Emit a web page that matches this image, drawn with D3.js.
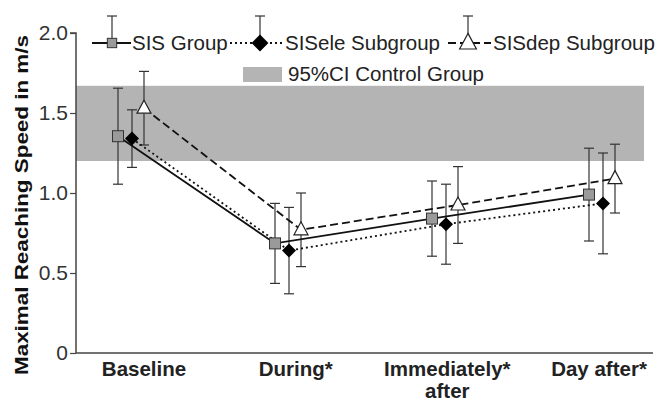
<!DOCTYPE html>
<html><head><meta charset="utf-8">
<script src="https://cdn.jsdelivr.net/npm/d3@7"></script>
<style>body{margin:0;background:#fff}svg{display:block}text{font-family:"Liberation Sans",Arial,sans-serif}</style>
</head><body>
<svg id="c" width="659" height="400"></svg>
<script>
const categories = ["Baseline", "During*", "Immediately* after", "Day after*"];
const sisGroup = [1.355, 0.685, 0.84, 0.99];
const sisGroupErr = [0.30, 0.25, 0.235, 0.29];
const sisEle = [1.34, 0.64, 0.805, 0.935];
const sisEleErr = [0.18, 0.27, 0.25, 0.315];
const sisDep = [1.53, 0.77, 0.925, 1.09];
const sisDepErr = [0.23, 0.23, 0.24, 0.215];
const controlCI = [1.2, 1.67];
const yTicks = [0, 0.5, 1.0, 1.5, 2.0];
const seriesNames = ["SIS Group", "SISele Subgroup", "SISdep Subgroup"];

(function () {
const svg = d3.select("#c");
const pL = 76, pR = 653, pT = 33, pB = 353;
const y = d3.scaleLinear().domain([0, 2]).range([pB, pT]);
const x = d3.scalePoint().domain(categories).range([132, 603]);
const xl = d3.scalePoint().domain(categories).range([144, 599]);

// control band
svg.append("rect").attr("x", pL).attr("width", 644 - pL)
  .attr("y", y(controlCI[1])).attr("height", y(controlCI[0]) - y(controlCI[1]))
  .attr("fill", "#b4b4b4");

// axes
const yAxis = d3.axisLeft(y).tickValues(yTicks).tickSize(6).tickPadding(2)
  .tickFormat(d => d === 0 ? "0" : d3.format(".1f")(d));
const gy = svg.append("g").attr("transform", `translate(${pL},0)`).call(yAxis);
gy.select(".domain").attr("stroke", "#444").attr("stroke-width", 1.5).attr("d", `M-6,${pT}H0V${pB}`);
gy.selectAll(".tick line").attr("stroke", "#444").attr("stroke-width", 1.2);
gy.selectAll(".tick text").attr("font-size", 21).attr("fill", "#333").attr("font-family", "Liberation Sans, Arial, sans-serif");
svg.append("line").attr("x1", pL).attr("x2", pR).attr("y1", pB).attr("y2", pB)
  .attr("stroke", "#444").attr("stroke-width", 1.5);

// x labels
categories.forEach(c => {
  const parts = c === "Immediately* after" ? ["Immediately*", "after"] : [c];
  const t = svg.append("text").attr("x", xl(c)).attr("y", 376).attr("text-anchor", "middle")
    .attr("font-size", 20.5).attr("font-weight", "bold").attr("fill", "#222");
  parts.forEach((p, i) => t.append("tspan").attr("x", xl(c)).attr("dy", i === 0 ? 0 : 21.5).text(p));
});

// y title
svg.append("text").attr("transform", `translate(28,205) rotate(-90)`).attr("text-anchor", "middle")
  .attr("font-size", 19).attr("font-weight", "bold").attr("fill", "#111")
  .attr("textLength", 340).attr("lengthAdjust", "spacingAndGlyphs")
  .text("Maximal Reaching Speed in m/s");

const series = [
  {name: seriesNames[0], vals: sisGroup, err: sisGroupErr, off: -14, dash: null, sym: "square"},
  {name: seriesNames[1], vals: sisEle, err: sisEleErr, off: 0, dash: "2,3", sym: "diamond"},
  {name: seriesNames[2], vals: sisDep, err: sisDepErr, off: 12, dash: "8,4", sym: "triangle"}
];

function drawMarker(g, sym, cx, cy, scale) {
  const s = scale || 1;
  if (sym === "square") {
    const h = 5.5 * s;
    g.append("rect").attr("x", cx - h).attr("y", cy - h).attr("width", 2 * h).attr("height", 2 * h)
      .attr("fill", "#9a9a9a").attr("stroke", "#333").attr("stroke-width", 1);
  } else if (sym === "diamond") {
    const h = 7 * s;
    g.append("path").attr("d", `M${cx},${cy - h}L${cx + h},${cy}L${cx},${cy + h}L${cx - h},${cy}Z`)
      .attr("fill", "#000");
  } else {
    const w = 7 * s, hu = 8 * s, hd = 5 * s;
    g.append("path").attr("d", `M${cx},${cy - hu}L${cx + w},${cy + hd}L${cx - w},${cy + hd}Z`)
      .attr("fill", "#fff").attr("stroke", "#222").attr("stroke-width", 1.2);
  }
}

const gErr = svg.append("g"), gLine = svg.append("g"), gMark = svg.append("g");
series.forEach(s => {
  s.vals.forEach((v, i) => {
    const cx = x(categories[i]) + s.off;
    const y1 = y(v + s.err[i]), y2 = y(v - s.err[i]);
    gErr.append("line").attr("x1", cx).attr("x2", cx).attr("y1", y1).attr("y2", y2).attr("stroke", "#333").attr("stroke-width", 1.2);
    [y1, y2].forEach(yy => gErr.append("line").attr("x1", cx - 5).attr("x2", cx + 5).attr("y1", yy).attr("y2", yy).attr("stroke", "#333").attr("stroke-width", 1.2));
  });
  const line = d3.line().x((v, i) => x(categories[i]) + s.off).y(v => y(v));
  const p = gLine.append("path").attr("d", line(s.vals)).attr("fill", "none").attr("stroke", "#111").attr("stroke-width", 1.8);
  if (s.dash) p.attr("stroke-dasharray", s.dash);
  s.vals.forEach((v, i) => drawMarker(gMark, s.sym, x(categories[i]) + s.off, y(v)));
});

// legend
const legY = 43;
const leg = [
  {x1: 92, x2: 131, mx: 112, tx: 132},
  {x1: 230, x2: 283, mx: 260, tx: 285},
  {x1: 448, x2: 491, mx: 468, tx: 493}
];
const gl = svg.append("g");
series.forEach((s, i) => {
  const L = leg[i];
  const ln = gl.append("line").attr("x1", L.x1).attr("x2", L.x2).attr("y1", legY).attr("y2", legY)
    .attr("stroke", "#111").attr("stroke-width", 1.8);
  if (s.dash) ln.attr("stroke-dasharray", s.dash);
  gl.append("line").attr("x1", L.mx).attr("x2", L.mx).attr("y1", 16).attr("y2", legY).attr("stroke", "#333").attr("stroke-width", 1.2);
  gl.append("line").attr("x1", L.mx - 5).attr("x2", L.mx + 5).attr("y1", 16).attr("y2", 16).attr("stroke", "#333").attr("stroke-width", 1.2);
  drawMarker(gl, s.sym, L.mx, legY, i === 0 ? 0.85 : 1.2);
  gl.append("text").attr("x", L.tx).attr("y", legY + 7).attr("font-size", 20.5).attr("fill", "#222").text(s.name);
});
gl.append("rect").attr("x", 243).attr("y", 67).attr("width", 39).attr("height", 15).attr("fill", "#b4b4b4");
gl.append("text").attr("x", 288).attr("y", 81).attr("font-size", 20.5).attr("fill", "#222").text("95%CI Control Group");
})();
</script>
</body></html>
